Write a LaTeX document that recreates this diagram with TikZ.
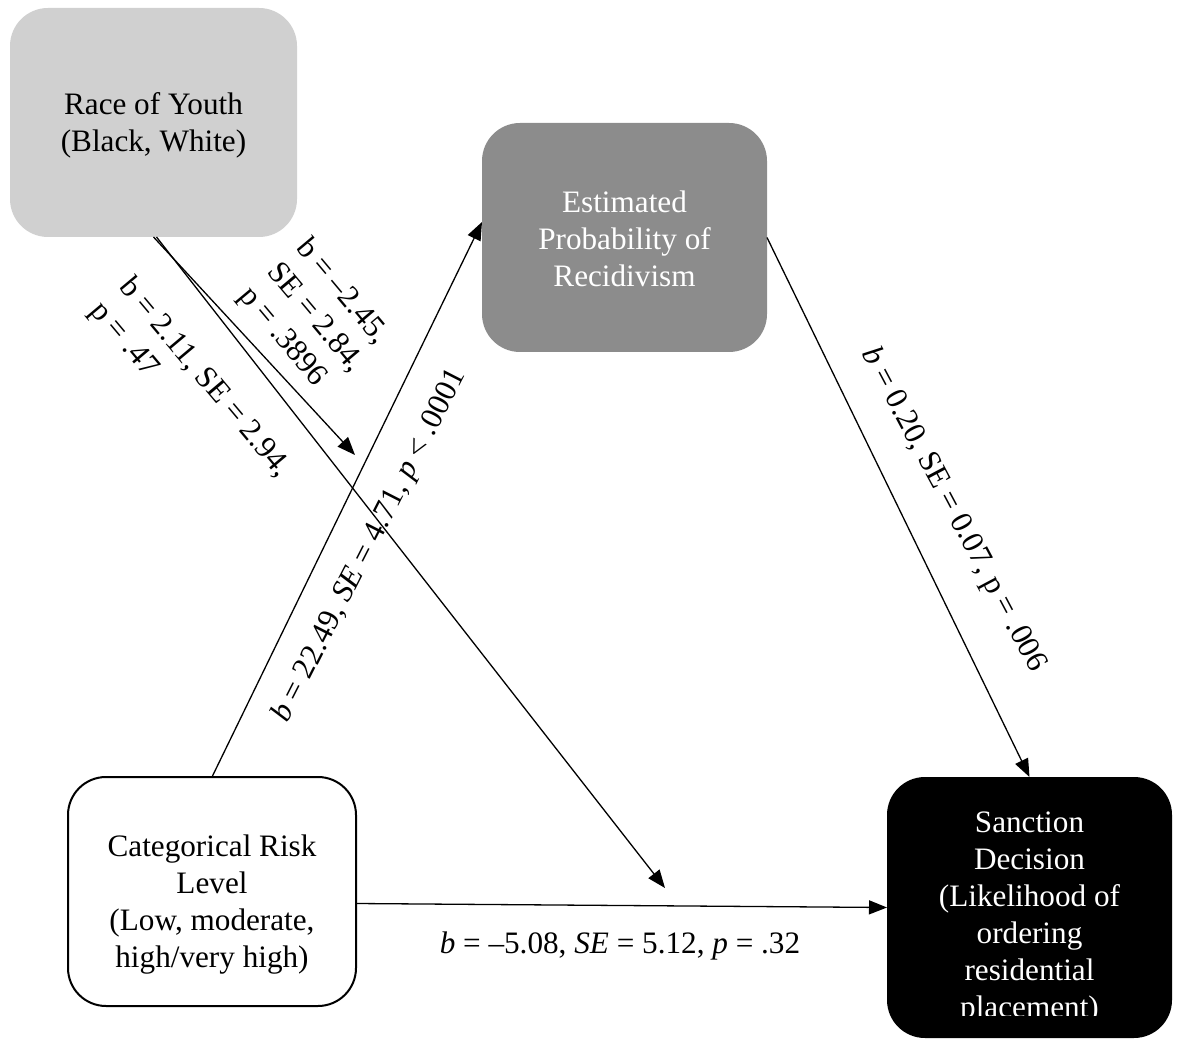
\documentclass[tikz,border=0pt]{standalone}
\usepackage{fontspec}
\setmainfont{Liberation Serif}
\usetikzlibrary{arrows.meta}
\definecolor{racegray}{RGB}{208,208,208}
\definecolor{estgray}{RGB}{140,140,140}
\begin{document}
\begin{tikzpicture}[x=1pt,y=-1pt,
  box/.style={rounded corners=38pt, inner sep=0pt, outer sep=0pt},
  txt/.style={font=\fontsize{31.2}{37}\selectfont, align=center, inner sep=0pt},
  lbl/.style={font=\fontsize{31.2}{37}\selectfont, inner sep=0pt},
  arr/.style={line width=1.3pt, -{Triangle[length=18pt,width=14pt]}}]
\useasboundingbox (0,0) rectangle (1178,1040);
% boxes
\node[box, fill=racegray, minimum width=287pt, minimum height=229pt] (race) at (153.5,122.5) {};
\node[box, fill=estgray, minimum width=285pt, minimum height=229pt] (est) at (624.5,237.5) {};
\node[box, draw=black, line width=2pt, fill=white, minimum width=288pt, minimum height=229pt] (cat) at (212,891.5) {};
\node[box, fill=black, minimum width=285pt, minimum height=261pt] (sanc) at (1029.5,907.5) {};
% texts
\node[txt] (racetxt) at (153.5,125) {Race of Youth\\(Black, White)};
\node[txt, text=white] (esttxt) at (624.5,239) {Estimated\\Probability of\\Recidivism};
\node[txt] (cattxt) at (212,905) {Categorical Risk\\Level\\(Low, moderate,\\high/very high)};
\begin{scope}
\clip (887,777) rectangle (1172,1015);
\node[txt, text=white] (sanctxt) at (1029.5,918) {Sanction\\Decision\\(Likelihood of\\ordering\\residential\\placement)};
\end{scope}
% connectors
\coordinate (endA) at (355,455);
\coordinate (endB) at (665,888);
\draw[arr] (cat.north) -- ([yshift=15.5pt]est.west);
\draw[arr] (race.south) -- (endA);
\draw[arr] ([xshift=3pt]race.south) -- (endB);
\draw[arr] (est.east) -- (sanc.north);
\draw[arr] ([yshift=-12pt]cat.east) -- (sanc.west);
% labels
\node[lbl, rotate=-50, align=left] (labA) at (315,318) {b = –2.45,\\SE = 2.84,\\p = .3896};
\node[lbl, rotate=-50, align=left] (labB) at (190,390) {b = 2.11, SE = 2.94,\\p = .47};
\node[lbl, rotate=63] (labC) at (370,546) {\textit{b} = 22.49, \textit{SE} = 4.71, \textit{p} < .0001};
\node[lbl, rotate=-62] (labD) at (953,510) {\textit{b} = 0.20, SE = 0.07, p = .006};
\node[lbl] (labE) at (620,946) {\textit{b} = –5.08, \textit{SE} = 5.12, \textit{p} = .32};
\end{tikzpicture}
\end{document}
